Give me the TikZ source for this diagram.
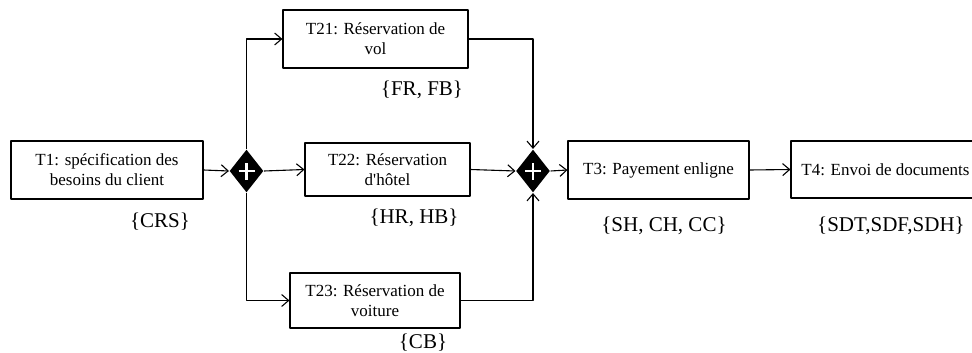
\documentclass[tikz,border=0pt]{standalone}
\usepackage{fontspec}
\setmainfont{Liberation Serif}[Ligatures=TeXOff]
\usetikzlibrary{shapes.geometric,arrows.meta}
\begin{document}
\begin{tikzpicture}[x=1pt, y=-1pt, line width=1.1pt, line join=round, >={Straight Barb[length=7pt,width=12pt]},
  task/.style={draw, align=center, inner sep=0pt, font=\fontsize{17}{20}\selectfont},
  gate/.style={diamond, fill=black, inner sep=0pt, minimum width=34pt, minimum height=43pt},
  res/.style={font=\fontsize{21}{24}\selectfont}]
  \useasboundingbox (0,0) rectangle (972,353);
  % tasks
  \node[task, minimum width=192pt, minimum height=58pt] (T1) at (107,170) {T1: spécification des\\besoins du client};
  \node[task, minimum width=185pt, minimum height=58pt] (T21) at (375.5,39) {T21: Réservation de\\vol};
  \node[task, minimum width=165pt, minimum height=53pt] (T22) at (387.5,169.5) {T22: Réservation\\d'hôtel};
  \node[task, minimum width=170pt, minimum height=55pt] (T23) at (375,300.5) {T23: Réservation de\\voiture};
  \node[task, minimum width=181pt, minimum height=58pt] (T3) at (658.5,170) {T3: Payement enligne};
  \node[task, minimum width=189pt, minimum height=57pt] (T4) at (885.5,169.5) {T4: Envoi de documents};
  % gateways
  \node[gate] (g1) at (246.5,171) {};
  \node[gate] (g2) at (533,171) {};
  \foreach \g in {g1,g2}
    \draw[white, line width=2.6pt] ([xshift=-8pt]\g.center) -- ([xshift=8pt]\g.center)
      ([yshift=-8.5pt]\g.center) -- ([yshift=8.5pt]\g.center);
  % flows
  \draw[->] (T1.east) -- (g1.west);
  \draw[->] (g1.north) |- (T21.west);
  \draw[->] (g1.east) -- (T22.west);
  \draw[->] (g1.south) |- (T23.west);
  \draw[->] (T21.east) -| (g2.north);
  \draw[->] (T22.east) -- (g2.west);
  \draw[->] (T23.east) -| (g2.south);
  \draw[->] (g2.east) -- (T3.west);
  \draw[->] (T3.east) -- (T4.west);
  % resources
  \node[res] (rT1) at (160,222) {\{CRS\}};
  \node[res] (rT21) at (422,90) {\{FR, FB\}};
  \node[res] (rT22) at (414,218) {\{HR, HB\}};
  \node[res] (rT23) at (423,343) {\{CB\}};
  \node[res] (rT3) at (664,226) {\{SH, CH, CC\}};
  \node[res] (rT4) at (891,226) {\{SDT,SDF,SDH\}};
\end{tikzpicture}
\end{document}
